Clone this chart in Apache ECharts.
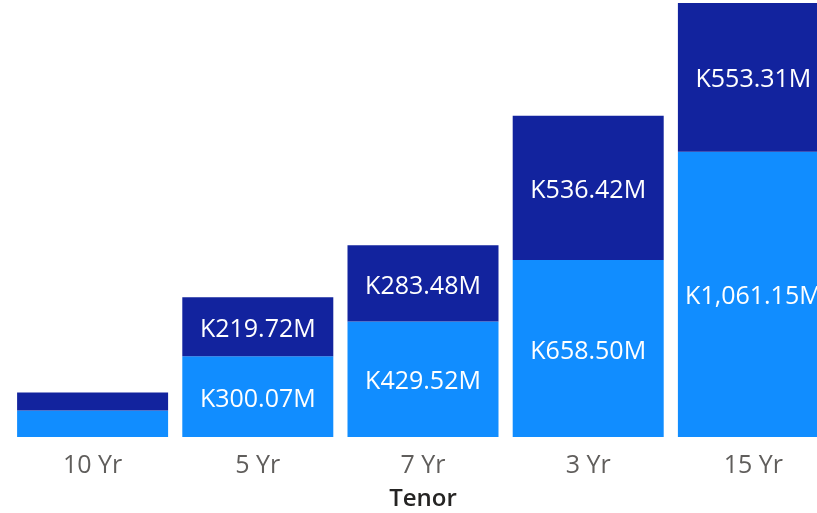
<!DOCTYPE html>
<html><head><meta charset="utf-8">
<script src="https://cdn.jsdelivr.net/npm/echarts@6/dist/echarts.min.js"></script>
<style>html,body{margin:0;padding:0;background:#fff}#c{width:817px;height:513px}</style>
</head><body><div id="c"></div>
<script>
const categories = ['10 Yr', '5 Yr', '7 Yr', '3 Yr', '15 Yr'];
const lowerValues = [99, 300.07, 429.52, 658.50, 1061.15];
const upperValues = [67, 219.72, 283.48, 536.42, 553.31];
const axisTitle = 'Tenor';

function fmt(v) {
  return 'K' + v.toLocaleString('en-US', {minimumFractionDigits: 2, maximumFractionDigits: 2}) + 'M';
}
const FONT = '"Open Sans", "Noto Sans", sans-serif';
const labelCfg = {
  show: true, position: 'inside', color: '#fff', fontFamily: FONT, fontSize: 25, offset: [0, 3],
  formatter: p => p.value < 150 ? '' : fmt(p.value)
};
const chart = echarts.init(document.getElementById('c'), null, {renderer: 'canvas'});
chart.setOption({
  animation: false,
  grid: {left: 10, top: 3, width: 826, height: 434, outerBoundsMode: 'none', containLabel: false},
  xAxis: {
    type: 'category', data: categories,
    axisLine: {show: false}, axisTick: {show: false},
    axisLabel: {color: '#605E5C', fontFamily: FONT, fontSize: 25, margin: 16},
    name: axisTitle, nameLocation: 'middle', nameGap: 50,
    nameTextStyle: {color: '#252423', fontFamily: FONT, fontSize: 24, fontWeight: 600}
  },
  yAxis: {type: 'value', min: 0, max: 'dataMax', show: false, splitLine: {show: false}},
  series: [
    {type: 'bar', stack: 't', data: lowerValues, barWidth: 151, itemStyle: {color: '#118DFF'}, label: labelCfg},
    {type: 'bar', stack: 't', data: upperValues, barWidth: 151, itemStyle: {color: '#12239E'}, label: labelCfg}
  ]
});
</script></body></html>
